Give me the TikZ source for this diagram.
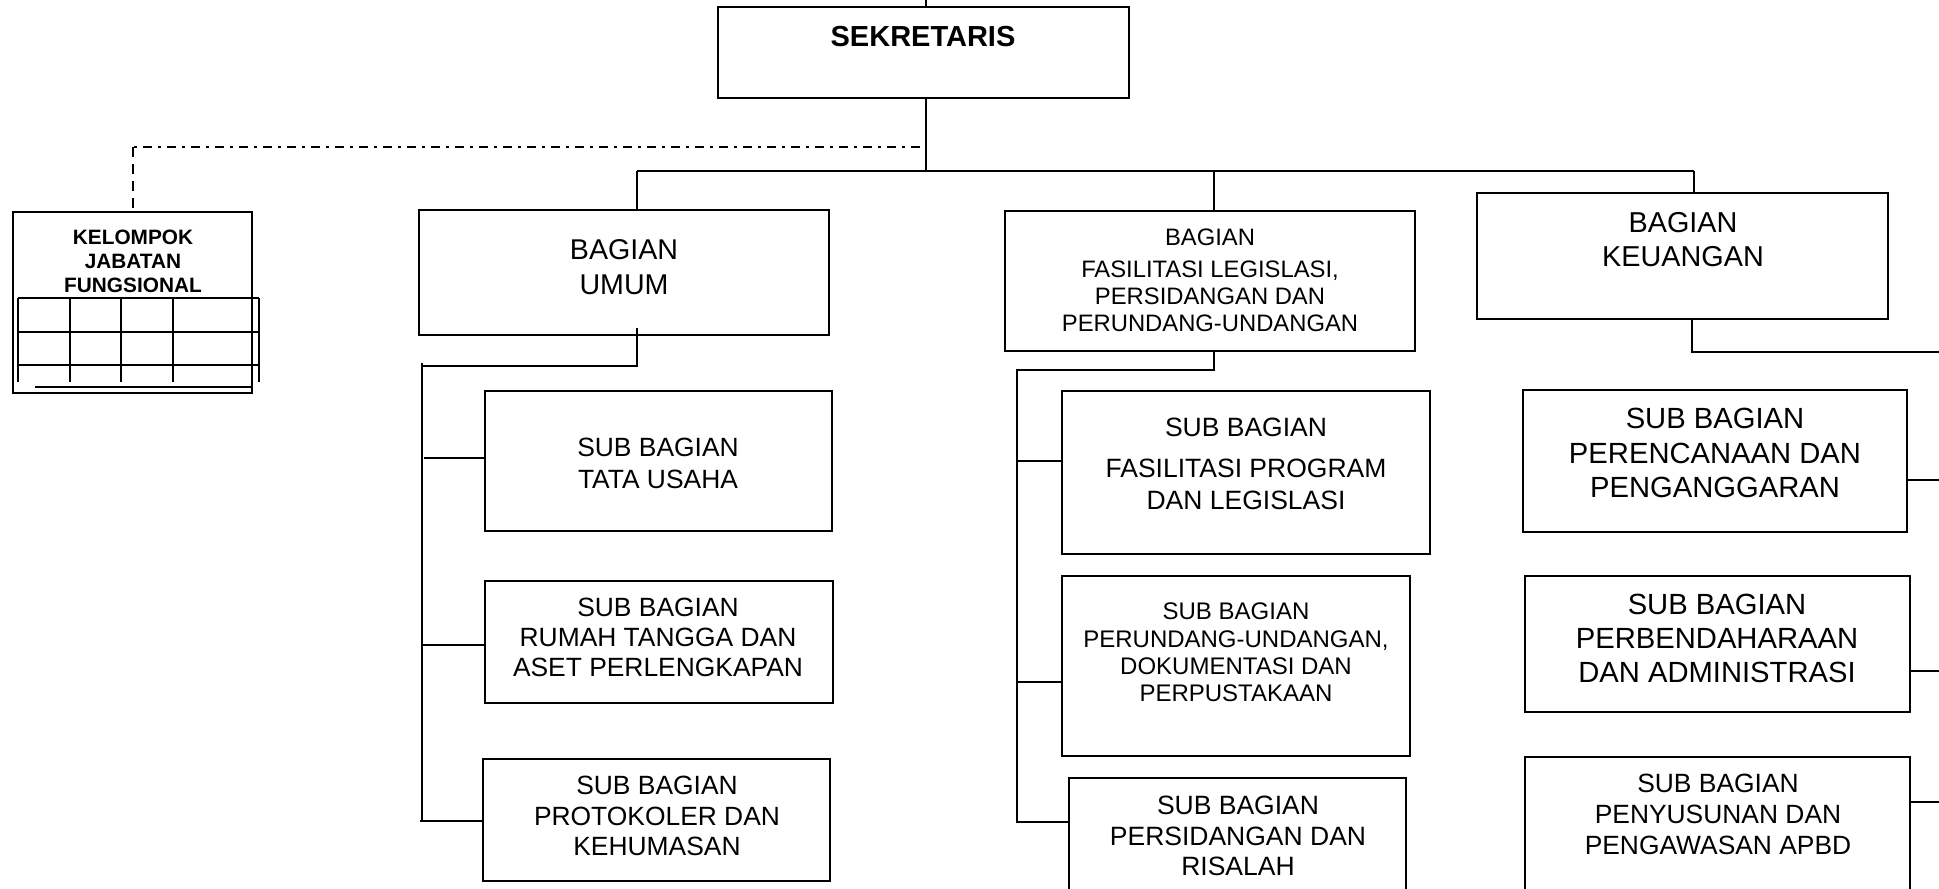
\documentclass[tikz,border=0pt]{standalone}
\usepackage{fontspec}
\setmainfont{Liberation Sans}
\usetikzlibrary{fit}
\begin{document}
\begin{tikzpicture}[x=0.5pt,y=-0.5pt,line width=1pt,
  orgbox/.style={draw,rectangle,line width=1.1pt,inner sep=0pt},
  lbl/.style={align=center,inner sep=0pt},
  dashdot/.style={dash pattern=on 4.5pt off 3pt on 1.5pt off 3pt},
  dashline/.style={dash pattern=on 5pt off 3.5pt}]
\useasboundingbox (0,0) rectangle (1939,889);
% boxes
\node[orgbox,fit={(718,7)(1129,98)}] (sek) {};
\node[orgbox,fit={(13,212)(252,393)}] (kjf) {};
\node[orgbox,fit={(419,210)(829,335)}] (umum) {};
\node[orgbox,fit={(1005,211)(1415,351)}] (fas) {};
\node[orgbox,fit={(1477,193)(1888,319)}] (keu) {};
\node[orgbox,fit={(485,391)(832,531)}] (tu) {};
\node[orgbox,fit={(485,581)(833,703)}] (rt) {};
\node[orgbox,fit={(483,759)(830,881)}] (pk) {};
\node[orgbox,fit={(1062,391)(1430,554)}] (fp) {};
\node[orgbox,fit={(1062,576)(1410,756)}] (pu) {};
\node[orgbox,fit={(1069,778)(1406,910)}] (pr) {};
\node[orgbox,fit={(1523,390)(1907,532)}] (pp) {};
\node[orgbox,fit={(1525,576)(1910,712)}] (pa) {};
\node[orgbox,fit={(1525,757)(1910,910)}] (ps) {};
% texts
\node[lbl,font=\bfseries\fontsize{14.5}{17}\selectfont] (sekT) at (923,37) {SEKRETARIS};
\node[lbl,font=\bfseries\fontsize{10.4}{12}\selectfont] (kjfT) at (133,261) {KELOMPOK\\JABATAN\\FUNGSIONAL};
\node[lbl,font=\fontsize{14.3}{17.5}\selectfont] (umumT) at (624,267.5) {BAGIAN\\UMUM};
\node[lbl,font=\fontsize{14.4}{17}\selectfont] (keuT) at (1683,239.5) {BAGIAN\\KEUANGAN};
\node[lbl,font=\fontsize{11.9}{13.5}\selectfont] (fasT) at (1210,280) {BAGIAN\\[2.5pt]FASILITASI LEGISLASI,\\PERSIDANGAN DAN\\PERUNDANG-UNDANGAN};
\node[lbl,font=\fontsize{13.2}{16}\selectfont] (tuT) at (658,463) {SUB BAGIAN\\TATA USAHA};
\node[lbl,font=\fontsize{13.2}{15}\selectfont] (rtT) at (658,637.5) {SUB BAGIAN\\RUMAH TANGGA DAN\\ASET PERLENGKAPAN};
\node[lbl,font=\fontsize{13.2}{15.2}\selectfont] (pkT) at (657,816) {SUB BAGIAN\\PROTOKOLER DAN\\KEHUMASAN};
\node[lbl,font=\fontsize{13.25}{15.7}\selectfont] (fpT) at (1246,464) {SUB BAGIAN\\[4.8pt]FASILITASI PROGRAM\\DAN LEGISLASI};
\node[lbl,font=\fontsize{12}{13.7}\selectfont] (puT) at (1236,652.5) {SUB BAGIAN\\PERUNDANG-UNDANGAN,\\DOKUMENTASI DAN\\PERPUSTAKAAN};
\node[lbl,font=\fontsize{13.25}{15.1}\selectfont] (prT) at (1238,836) {SUB BAGIAN\\PERSIDANGAN DAN\\RISALAH};
\node[lbl,font=\fontsize{14.6}{17.2}\selectfont] (ppT) at (1715,453) {SUB BAGIAN\\PERENCANAAN DAN\\PENGANGGARAN};
\node[lbl,font=\fontsize{14.6}{17.2}\selectfont] (paT) at (1717,638.5) {SUB BAGIAN\\PERBENDAHARAAN\\DAN ADMINISTRASI};
\node[lbl,font=\fontsize{13.2}{15.5}\selectfont] (psT) at (1718,814) {SUB BAGIAN\\PENYUSUNAN DAN\\PENGAWASAN APBD};
% grid in kelompok box
\foreach \yy in {298,332,365} \draw (18,\yy) -- (259,\yy);
\foreach \xx in {18,70,121,173,259} \draw (\xx,298) -- (\xx,382);
\draw (35,387) -- (251,387);
% top connectors
\coordinate (top) at (926,0);
\coordinate (hub) at (926,171);
\coordinate (bL) at (637,171);
\coordinate (bM) at (1214,171);
\coordinate (bR) at (1694,171);
\draw (top) -- (sek.north -| top);
\draw (sek.south -| hub) -- (hub);
\draw (bL) -- (bR);
\draw (bL) -- (umum.north -| bL);
\draw (bM) -- (fas.north -| bM);
\draw (bR) -- (keu.north -| bR);
% dashed link to kelompok jabatan fungsional
\coordinate (dE) at (920,147);
\coordinate (dC) at (133,147);
\draw[dashdot] (dE) -- (dC);
\draw[dashline] (dC) -- (kjf.north -| dC);
% bagian umum
\coordinate (u1) at (637,328);
\coordinate (u2) at (637,366);
\coordinate (u3) at (422,366);
\coordinate (u0) at (422,363);
\coordinate (u4) at (422,821);
\coordinate (ub1) at (424,458);
\coordinate (ub2) at (422,645);
\coordinate (ub3) at (420,821);
\draw (u1) -- (u2) -- (u3);
\draw (u0) -- (u4);
\draw (ub1) -- (ub1 -| tu.west);
\draw (ub2) -- (ub2 -| rt.west);
\draw (ub3) -- (ub3 -| pk.west);
% bagian fasilitasi
\coordinate (f1) at (1214,370);
\coordinate (f2) at (1017,370);
\coordinate (f3) at (1017,822);
\coordinate (fb1) at (1017,461);
\coordinate (fb2) at (1016,682);
\draw (fas.south -| f1) -- (f1) -- (f2) -- (f3) -- (f3 -| pr.west);
\draw (fb1) -- (fb1 -| fp.west);
\draw (fb2) -- (fb2 -| pu.west);
% bagian keuangan
\coordinate (k1) at (1692,352);
\coordinate (k2) at (1945,352);
\coordinate (r1) at (1945,480);
\coordinate (r2) at (1945,671);
\coordinate (r3) at (1945,802);
\draw (keu.south -| k1) -- (k1) -- (k2);
\draw (r1 -| pp.east) -- (r1);
\draw (r2 -| pa.east) -- (r2);
\draw (r3 -| ps.east) -- (r3);
\end{tikzpicture}
\end{document}
